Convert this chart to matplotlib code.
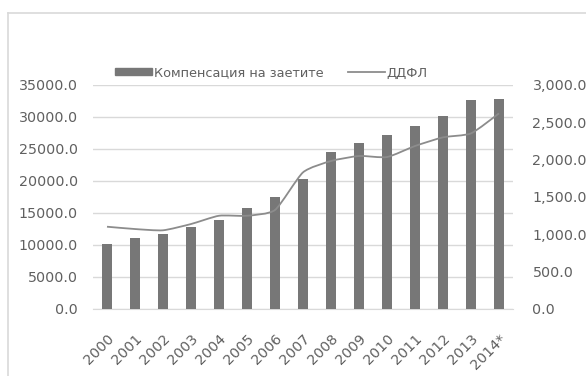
import matplotlib
matplotlib.use("Agg")
import matplotlib.pyplot as plt
import matplotlib.transforms as mtransforms
from matplotlib.patches import Rectangle, PathPatch
from matplotlib.path import Path
from matplotlib.lines import Line2D

plt.rcParams['font.family'] = ['DejaVu Sans']

years = ["2000", "2001", "2002", "2003", "2004", "2005", "2006", "2007",
         "2008", "2009", "2010", "2011", "2012", "2013", "2014*"]
compensation = [10100, 11150, 11670, 12760, 13960, 15730, 17450, 20310,
                24530, 25940, 27140, 28540, 30100, 32600, 32760]
ddfl = [1102, 1071, 1054, 1138, 1249, 1249, 1326, 1830,
        1982, 2049, 2035, 2183, 2299, 2352, 2620]

left_ticks = [0, 5000, 10000, 15000, 20000, 25000, 30000, 35000]
right_ticks = [0, 500, 1000, 1500, 2000, 2500, 3000]


def smooth_path(xv, yv, k=10.0):
    """Cubic Bezier path through the points with gentle rounding at the joints."""
    pts = list(zip(xv, yv))
    verts = [pts[0]]
    codes = [Path.MOVETO]
    n = len(pts)
    for i in range(n - 1):
        p0 = pts[i - 1] if i > 0 else pts[i]
        p1 = pts[i]
        p2 = pts[i + 1]
        p3 = pts[i + 2] if i + 2 < n else pts[i + 1]
        c1 = (p1[0] + (p2[0] - p0[0]) / k, p1[1] + (p2[1] - p0[1]) / k)
        c2 = (p2[0] - (p3[0] - p1[0]) / k, p2[1] - (p3[1] - p1[1]) / k)
        verts += [c1, c2, p2]
        codes += [Path.CURVE4] * 3
    return Path(verts, codes)


W, H = 586, 376
fig = plt.figure(figsize=(W / 100, H / 100), dpi=100)
fig.patch.set_facecolor("white")

# chart area frame (only left and top edges fall inside the canvas)
fig.add_artist(Line2D([8 / W, 8 / W], [0, 1 - 13 / H], color="#d9d9d9", lw=1.2,
                      transform=fig.transFigure))
fig.add_artist(Line2D([8 / W, 1], [1 - 13 / H, 1 - 13 / H], color="#d9d9d9", lw=1.2,
                      transform=fig.transFigure))

x0, x1, yt, yb = 93, 513, 85, 309
ax = fig.add_axes([x0 / W, 1 - yb / H, (x1 - x0) / W, (yb - yt) / H])
ax2 = ax.twinx()

bar_color = "#777777"
line_color = "#8c8c8c"
text_color = "#606060"
tick_size = 10.3

xs = list(range(len(years)))
ax.bar(xs, compensation, width=0.33, color=bar_color, zorder=3)
ax2.add_patch(PathPatch(smooth_path(xs, ddfl), facecolor="none",
                        edgecolor=line_color, lw=1.3, zorder=4))

ax.set_xlim(-0.5, len(years) - 0.5)
ax.set_ylim(0, 35000)
ax2.set_ylim(0, 3000)

ax.set_yticks(left_ticks)
ax.set_yticklabels([f"{v:.1f}" for v in left_ticks])
ax2.set_yticks(right_ticks)
ax2.set_yticklabels([f"{v:,.1f}" for v in right_ticks])

ax.grid(axis="y", color="#d9d9d9", lw=1.0, zorder=0)
ax.set_axisbelow(True)

for a in (ax, ax2):
    for s in a.spines.values():
        s.set_visible(False)
    a.tick_params(length=0, labelsize=tick_size, colors=text_color)
ax.spines["bottom"].set_visible(True)
ax.spines["bottom"].set_color("#d9d9d9")
ax.tick_params(axis="y", pad=11)
ax2.tick_params(axis="y", pad=14)

ax.set_xticks(xs)
ax.set_xticklabels(years, rotation=45, ha="right", va="center",
                   rotation_mode="anchor", fontsize=tick_size, color=text_color)
ax.tick_params(axis="x", pad=20)
shift = mtransforms.ScaledTranslation(5 / 100, 0, fig.dpi_scale_trans)
for lbl in ax.get_xticklabels():
    lbl.set_transform(lbl.get_transform() + shift)

# legend
fig.legend(handles=[Rectangle((0, 0), 1, 1, color=bar_color),
                    Line2D([0], [0], color=line_color, lw=1.3)],
           labels=["Компенсация на заетите", "ДДФЛ"],
           loc="center left", bbox_to_anchor=(115 / W, 1 - 73 / H), ncol=2,
           frameon=False, fontsize=9.3, labelcolor=text_color,
           handlelength=2.9, handleheight=0.45, handletextpad=0.1,
           columnspacing=1.9, borderaxespad=0, borderpad=0)

fig.savefig("out.png", dpi=100, facecolor="white")
